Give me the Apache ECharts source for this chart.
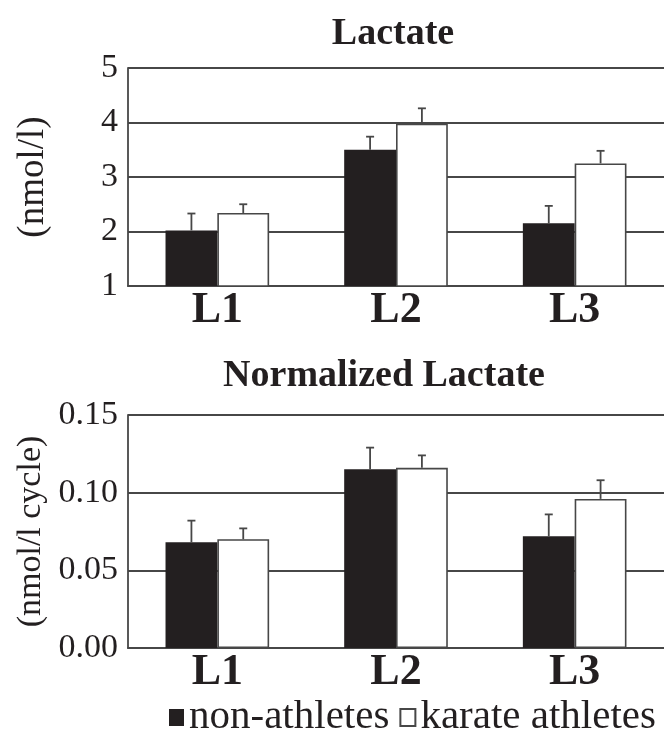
<!DOCTYPE html>
<html>
<head>
<meta charset="utf-8">
<script src="https://cdn.jsdelivr.net/npm/echarts@6/dist/echarts.min.js"></script>
<style>html,body{margin:0;padding:0;background:#fff}#c{width:664px;height:731px}</style>
</head>
<body>
<div id="c"></div>
<script>
var categories = ['L1', 'L2', 'L3'];
var seriesNames = ['non-athletes', 'karate athletes'];
var lactateNon = [2.02, 3.50, 2.15];
var lactateNonErr = [0.31, 0.24, 0.32];
var lactateKarate = [2.34, 3.98, 3.25];
var lactateKarateErr = [0.16, 0.28, 0.23];
var normNon = [0.068, 0.115, 0.072];
var normNonErr = [0.014, 0.014, 0.014];
var normKarate = [0.070, 0.116, 0.096];
var normKarateErr = [0.007, 0.008, 0.012];
var lactateTicks = [1, 5, 1];
var normTicks = [0, 0.15, 0.05];

var FONT = 'Liberation Serif';
var GRAY = '#474747';
var BLACK = '#231f20';
var GAP = 0.42;

function errSeries(vals, errs, idx, xi, yi) {
  return {
    type: 'custom', xAxisIndex: xi, yAxisIndex: yi, z: 5, silent: true,
    data: vals.map(function (v, i) { return [i, v, v + errs[i]]; }),
    renderItem: function (params, api) {
      var band = api.size([1, 0])[0];
      var bw = band * (1 - GAP) / 2;
      var off = (idx === 0 ? -bw / 2 : bw / 2);
      var p0 = api.coord([api.value(0), api.value(1)]);
      var p1 = api.coord([api.value(0), api.value(2)]);
      var x = p0[0] + off;
      var st = { stroke: GRAY, lineWidth: 1.8 };
      return { type: 'group', children: [
        { type: 'line', shape: { x1: x, y1: p0[1], x2: x, y2: p1[1] }, style: st },
        { type: 'line', shape: { x1: x - 4, y1: p1[1], x2: x + 4, y2: p1[1] }, style: st }
      ]};
    }
  };
}

function yAx(gi, ticks, name, nameSize, nameGap, fmt) {
  return {
    gridIndex: gi, type: 'value', min: ticks[0], max: ticks[1], interval: ticks[2],
    name: name, nameLocation: 'middle', nameGap: nameGap,
    nameTextStyle: { fontFamily: FONT, fontSize: nameSize, color: '#231f20' },
    axisLine: { show: true, lineStyle: { color: GRAY, width: 1.8 } },
    axisTick: { show: false },
    splitLine: { show: true, lineStyle: { color: GRAY, width: 1.8 } },
    axisLabel: { fontFamily: FONT, fontSize: 34, color: '#231f20', margin: 10, formatter: fmt }
  };
}
function xAx(gi) {
  return {
    gridIndex: gi, type: 'category', data: categories,
    axisLine: { show: true, lineStyle: { color: GRAY, width: 1.8 } },
    axisTick: { show: false },
    axisLabel: { fontFamily: FONT, fontWeight: 'bold', fontSize: 44, color: '#231f20', margin: 3 }
  };
}
function bar(name, vals, xi, yi, color) {
  return {
    name: name, type: 'bar', xAxisIndex: xi, yAxisIndex: yi, data: vals,
    barGap: '0%', barCategoryGap: (GAP * 100) + '%',
    itemStyle: color === 'white'
      ? { color: '#ffffff', borderColor: GRAY, borderWidth: 1.6 }
      : { color: BLACK }
  };
}

var chart = echarts.init(document.getElementById('c'));
chart.setOption({
  animation: false,
  backgroundColor: '#ffffff',
  title: [
    { text: 'Lactate', left: 388, top: 10, textAlign: 'center',
      textStyle: { fontFamily: FONT, fontWeight: 'bold', fontSize: 38, color: '#231f20' } },
    { text: 'Normalized Lactate', left: 379, top: 352, textAlign: 'center',
      textStyle: { fontFamily: FONT, fontWeight: 'bold', fontSize: 38, color: '#231f20' } }
  ],
  legend: {
    data: seriesNames, left: 164, top: 692, itemGap: 10, itemWidth: 15, itemHeight: 17,
    icon: 'rect',
    textStyle: { fontFamily: FONT, fontSize: 41, color: '#231f20' }
  },
  grid: [
    { left: 128, top: 68, width: 544, height: 218 },
    { left: 128, top: 415, width: 544, height: 233 }
  ],
  xAxis: [xAx(0), xAx(1)],
  yAxis: [
    yAx(0, lactateTicks, '(nmol/l)', 37, 76, function (v) { return String(v); }),
    yAx(1, normTicks, '(nmol/l cycle)', 34, 76, function (v) { return v.toFixed(2); })
  ],
  series: [
    bar(seriesNames[0], lactateNon, 0, 0, 'black'),
    bar(seriesNames[1], lactateKarate, 0, 0, 'white'),
    bar(seriesNames[0], normNon, 1, 1, 'black'),
    bar(seriesNames[1], normKarate, 1, 1, 'white'),
    errSeries(lactateNon, lactateNonErr, 0, 0, 0),
    errSeries(lactateKarate, lactateKarateErr, 1, 0, 0),
    errSeries(normNon, normNonErr, 0, 1, 1),
    errSeries(normKarate, normKarateErr, 1, 1, 1)
  ]
});
</script>
</body>
</html>
